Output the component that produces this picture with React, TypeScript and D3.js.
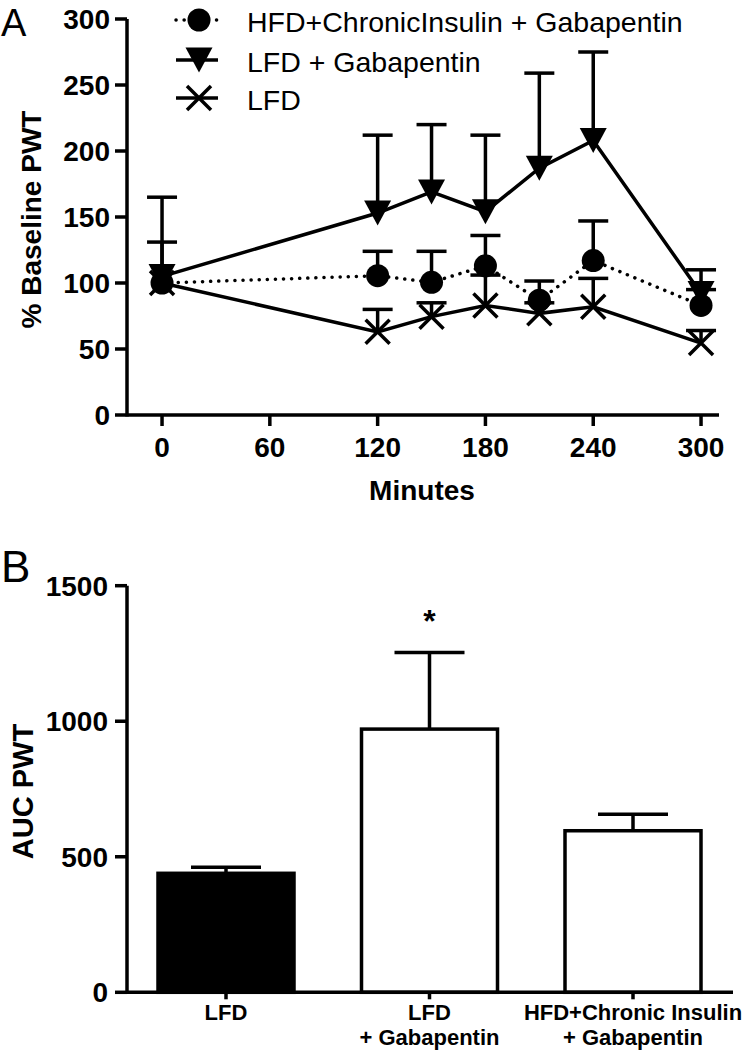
import React from "react";
import * as d3 from "d3";

// ---------- Panel A data ----------
const times = [0, 120, 150, 180, 210, 240, 300];
const hfdMean = [100, 105.5, 100.5, 113, 87, 117, 83];
const hfdSem = [31, 18.5, 23.5, 23, 14.5, 30, 12];
const lfdGabaMean = [105, 153, 169, 154, 187, 208, 92];
const lfdGabaSem = [60, 59, 51, 58, 72, 67, 18];
const lfdMean = [100, 63, 74.5, 83, 77, 82, 54.5];
const lfdSem = [0, 17, 10.5, 23, 8, 21.5, 9.5];
const xTicksA = [0, 60, 120, 180, 240, 300];
const yTicksA = [0, 50, 100, 150, 200, 250, 300];
const legendLabels = ["HFD+ChronicInsulin + Gabapentin", "LFD + Gabapentin", "LFD"];

// ---------- Panel B data ----------
const barCats = ["LFD", "LFD + Gabapentin", "HFD+Chronic Insulin + Gabapentin"];
const barLabelLines = [["LFD"], ["LFD", "+ Gabapentin"], ["HFD+Chronic Insulin", "+ Gabapentin"]];
const aucMean = [439, 971, 596];
const aucSem = [22, 283, 61];
const barFills = ["#000", "#fff", "#fff"];
const yTicksB = [0, 500, 1000, 1500];

const FONT = "Arial, 'Liberation Sans', Helvetica, sans-serif";

type Series = { mean: number[]; sem: number[]; marker: "circle" | "tri" | "x"; dotted: boolean };

function Marker({ kind, x, y }: { kind: string; x: number; y: number }) {
  if (kind === "circle") return <circle cx={x} cy={y} r={11.5} fill="#000" />;
  if (kind === "tri")
    return <path d={`M${x - 13.5},${y - 12.5}L${x + 13.5},${y - 12.5}L${x},${y + 12.5}Z`} fill="#000" />;
  return (
    <path
      d={`M${x - 12},${y - 12}L${x + 12},${y + 12}M${x - 12},${y + 12}L${x + 12},${y - 12}`}
      stroke="#000"
      strokeWidth={3.5}
      fill="none"
    />
  );
}

export default function App() {
  // Panel A scales
  const xA = d3.scaleLinear().domain([-19.5, 310]).range([127, 719]);
  const yA = d3.scaleLinear().domain([0, 300]).range([415, 19]);

  const series: Series[] = [
    { mean: hfdMean, sem: hfdSem, marker: "circle", dotted: true },
    { mean: lfdGabaMean, sem: lfdGabaSem, marker: "tri", dotted: false },
    { mean: lfdMean, sem: lfdSem, marker: "x", dotted: false },
  ];

  const line = d3
    .line<number>()
    .x((_, i) => xA(times[i]))
    .y((d) => yA(d));

  // Panel B scales
  const xB = d3.scalePoint<string>().domain(barCats).range([226, 633]);
  const yB = d3.scaleLinear().domain([0, 1500]).range([992.3, 585.7]);
  const barW = 136;

  const legendY = [20, 60, 98];
  const legendMarkers = ["circle", "tri", "x"];

  return (
    <svg
      width={743}
      height={1050}
      style={{ position: "absolute", left: 0, top: 0, background: "#fff" }}
      fontFamily={FONT}
    >
      <rect x={0} y={0} width={743} height={1050} fill="#fff" />
      {/* Panel labels */}
      <text x={1} y={36} fontSize={38}>A</text>
      <text x={1} y={582} fontSize={44}>B</text>

      {/* ===== Panel A ===== */}
      <line x1={127} x2={127} y1={yA(300)} y2={yA(0) + 1.5} stroke="#000" strokeWidth={3.5} />
      <line x1={127} x2={719} y1={yA(0)} y2={yA(0)} stroke="#000" strokeWidth={3.5} />
      {yTicksA.map((t) => (
        <g key={"ya" + t}>
          <line x1={115} x2={127} y1={yA(t)} y2={yA(t)} stroke="#000" strokeWidth={3.5} />
          <text x={110} y={yA(t)} dy="0.36em" textAnchor="end" fontSize={28} fontWeight="bold">
            {t}
          </text>
        </g>
      ))}
      {xTicksA.map((t) => (
        <g key={"xa" + t}>
          <line x1={xA(t)} x2={xA(t)} y1={yA(0)} y2={yA(0) + 11} stroke="#000" strokeWidth={3.5} />
          <text x={xA(t)} y={457} textAnchor="middle" fontSize={28} fontWeight="bold">
            {t}
          </text>
        </g>
      ))}
      <text x={422} y={500} textAnchor="middle" fontSize={28} fontWeight="bold">
        Minutes
      </text>
      <text
        transform={`translate(41,${219.5}) rotate(-90)`}
        textAnchor="middle"
        fontSize={28}
        fontWeight="bold"
      >
        % Baseline PWT
      </text>

      {series.map((s, si) => (
        <path
          key={"l" + si}
          d={line(s.mean) || ""}
          fill="none"
          stroke="#000"
          strokeWidth={3.5}
          strokeDasharray={s.dotted ? "0.1 8" : undefined}
          strokeLinecap={s.dotted ? "round" : "butt"}
        />
      ))}
      {series.map((s, si) =>
        s.mean.map((m, i) =>
          s.sem[i] > 0 ? (
            <g key={`e${si}-${i}`}>
              <line
                x1={xA(times[i])}
                x2={xA(times[i])}
                y1={yA(m)}
                y2={yA(m + s.sem[i])}
                stroke="#000"
                strokeWidth={3.5}
              />
              <line
                x1={xA(times[i]) - 15}
                x2={xA(times[i]) + 15}
                y1={yA(m + s.sem[i])}
                y2={yA(m + s.sem[i])}
                stroke="#000"
                strokeWidth={3.5}
              />
            </g>
          ) : null
        )
      )}
      {series.map((s, si) =>
        s.mean.map((m, i) => <Marker key={`m${si}-${i}`} kind={s.marker} x={xA(times[i])} y={yA(m)} />)
      )}

      {legendLabels.map((lab, i) => (
        <g key={"lg" + i}>
          <line
            x1={176}
            x2={218}
            y1={legendY[i]}
            y2={legendY[i]}
            stroke="#000"
            strokeWidth={3.5}
            strokeDasharray={i === 0 ? "0.1 8" : undefined}
            strokeLinecap={i === 0 ? "round" : "butt"}
          />
          <Marker kind={legendMarkers[i]} x={199} y={legendY[i]} />
          <text x={247} y={legendY[i] + 12} fontSize={28.5}>
            {lab}
          </text>
        </g>
      ))}

      {/* ===== Panel B ===== */}
      {barCats.map((c, i) => (
        <g key={"b" + i}>
          <line
            x1={xB(c)!}
            x2={xB(c)!}
            y1={yB(aucMean[i])}
            y2={yB(aucMean[i] + aucSem[i])}
            stroke="#000"
            strokeWidth={3.5}
          />
          <line
            x1={xB(c)! - 35}
            x2={xB(c)! + 35}
            y1={yB(aucMean[i] + aucSem[i])}
            y2={yB(aucMean[i] + aucSem[i])}
            stroke="#000"
            strokeWidth={3.5}
          />
          <rect
            x={xB(c)! - barW / 2}
            y={yB(aucMean[i])}
            width={barW}
            height={yB(0) - yB(aucMean[i])}
            fill={barFills[i]}
            stroke="#000"
            strokeWidth={3.5}
          />
        </g>
      ))}
      <line x1={127} x2={127} y1={yB(1500)} y2={yB(0) + 1.5} stroke="#000" strokeWidth={3.5} />
      <line x1={127} x2={733} y1={yB(0)} y2={yB(0)} stroke="#000" strokeWidth={3.5} />
      {yTicksB.map((t) => (
        <g key={"yb" + t}>
          <line x1={115} x2={127} y1={yB(t)} y2={yB(t)} stroke="#000" strokeWidth={3.5} />
          <text x={108} y={yB(t)} dy="0.36em" textAnchor="end" fontSize={28} fontWeight="bold">
            {t}
          </text>
        </g>
      ))}
      {barCats.map((c, i) => (
        <g key={"xb" + i}>
          <line x1={xB(c)!} x2={xB(c)!} y1={yB(0)} y2={yB(0) + 7} stroke="#000" strokeWidth={3.5} />
          {barLabelLines[i].map((ln, j) => (
            <text
              key={j}
              x={xB(c)!}
              y={1020 + j * 25}
              textAnchor="middle"
              fontSize={22}
              fontWeight="bold"
            >
              {ln}
            </text>
          ))}
        </g>
      ))}
      <text x={xB(barCats[1])!} y={632} textAnchor="middle" fontSize={32} fontWeight="bold">
        *
      </text>
      <text
        transform={`translate(33,${791.5}) rotate(-90)`}
        textAnchor="middle"
        fontSize={29}
        fontWeight="bold"
      >
        AUC PWT
      </text>
    </svg>
  );
}
